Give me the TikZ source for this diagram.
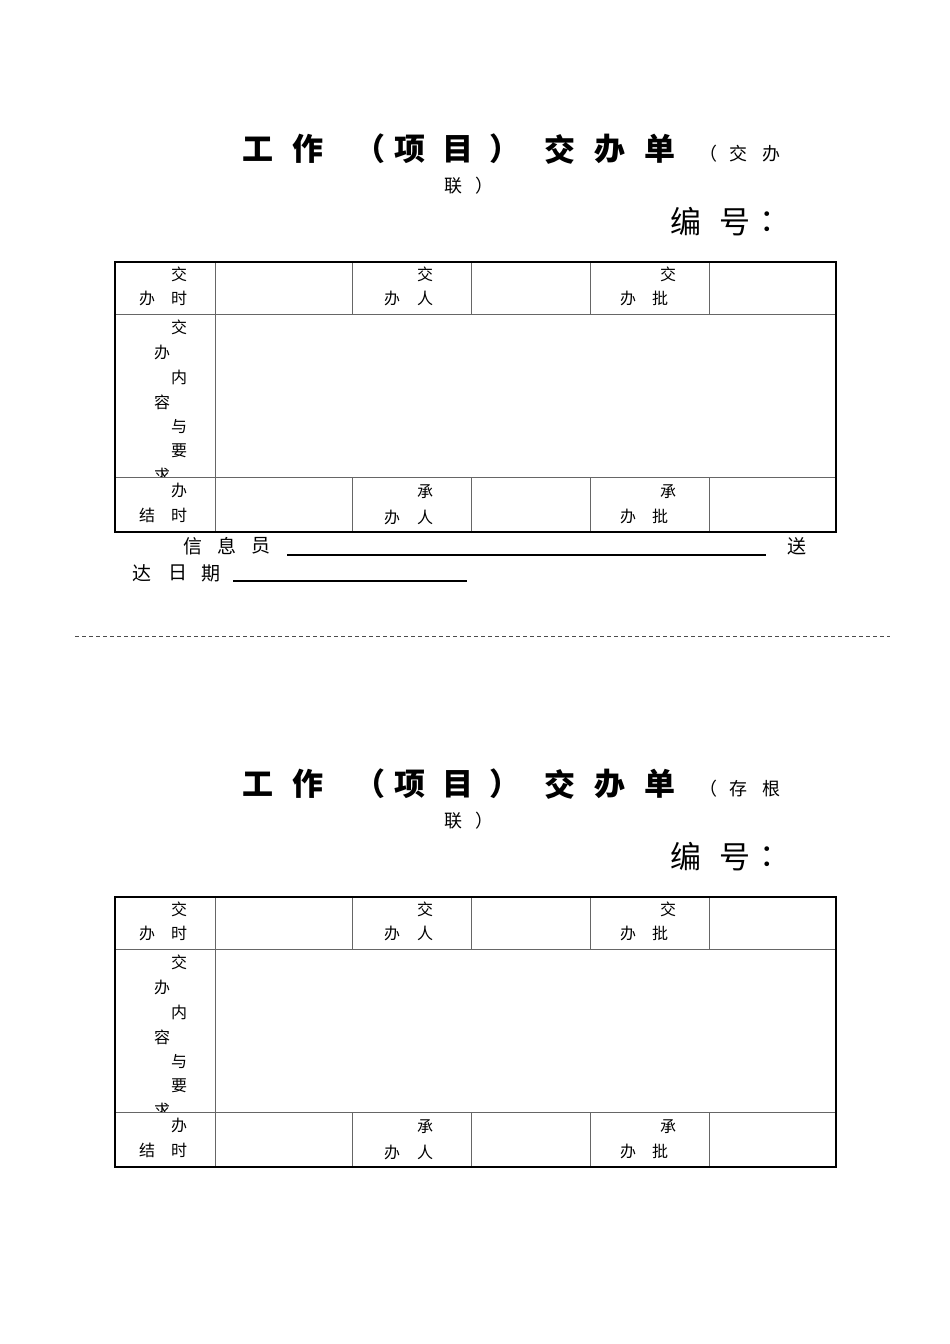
\documentclass[tikz,border=0pt]{standalone}
\usepackage{fontspec}
\newfontfamily\cjk{Noto Sans CJK SC}
\begin{document}
\begin{tikzpicture}[x=1pt,y=-1pt,
  t/.style={font=\cjk\fontsize{16}{16}\selectfont,inner sep=0pt},
  big/.style={font=\cjk\fontsize{31}{31}\selectfont\bfseries,inner sep=0pt},
  sm/.style={font=\cjk\fontsize{18}{18}\selectfont,inner sep=0pt},
  grid/.style={draw=black!60,line width=0.8pt},
  frame/.style={draw=black,line width=2pt}]
\useasboundingbox (0,0) rectangle (950,1344);
\draw[dashed,draw=black!70,dash pattern=on 4pt off 3pt] (75,636) -- (890,636);
\foreach \dy/\a/\b/\info in {0/交/办/1,635/存/根/0}{
\begin{scope}[yshift=-\dy pt]
\foreach \c/\xx in {工/258,作/308,（/370,项/410,目/458,）/505,交/560,办/610,单/660}
  \node[big] at (\xx,149) {\c};
\node[sm] at (708,154) {（}; \node[sm] at (738,154) {\a}; \node[sm] at (771,154) {\b};
\node[sm] at (453,186) {联}; \node[sm] at (484,186) {）};
\foreach \c/\xx in {编/686,号/735,：/775}
  \node[font=\cjk\fontsize{31}{31}\selectfont,inner sep=0pt] at (\xx,222) {\c};
\draw[grid] (115,314) -- (836,314) (115,477) -- (836,477);
\foreach \xx in {352,471,590,709} {\draw[grid] (\xx,262) -- (\xx,314) (\xx,477) -- (\xx,532);}
\draw[grid] (215,262) -- (215,532);
\draw[frame] (115,262) rectangle (836,532);
\foreach \c/\xx/\yy in {交/179/274,办/147/298,时/179/298,交/425/274,办/392/298,人/425/298,
  交/668/274,办/628/298,批/660/298,交/179/327,办/162/352,内/179/377,容/162/402,与/179/427,要/179/451,
  办/179/490,结/147/515,时/179/515,承/425/492,办/392/517,人/425/517,承/668/492,办/628/516,批/660/516}
  \node[t] at (\xx,\yy) {\c};
\begin{scope}\clip (116,440) rectangle (214,476);
\node[t] at (162,475) {求};\end{scope}
\ifnum\info=1
\foreach \c/\xx/\yy in {信/193/546,息/227/546,员/261/546,送/797/546,达/142/573,日/178/573,期/211/573}
  \node[font=\cjk\fontsize{19}{19}\selectfont,inner sep=0pt] at (\xx,\yy) {\c};
\draw[line width=1.6pt] (287,555) -- (766,555) (233,581) -- (467,581);
\fi
\end{scope}}
\end{tikzpicture}
\end{document}
